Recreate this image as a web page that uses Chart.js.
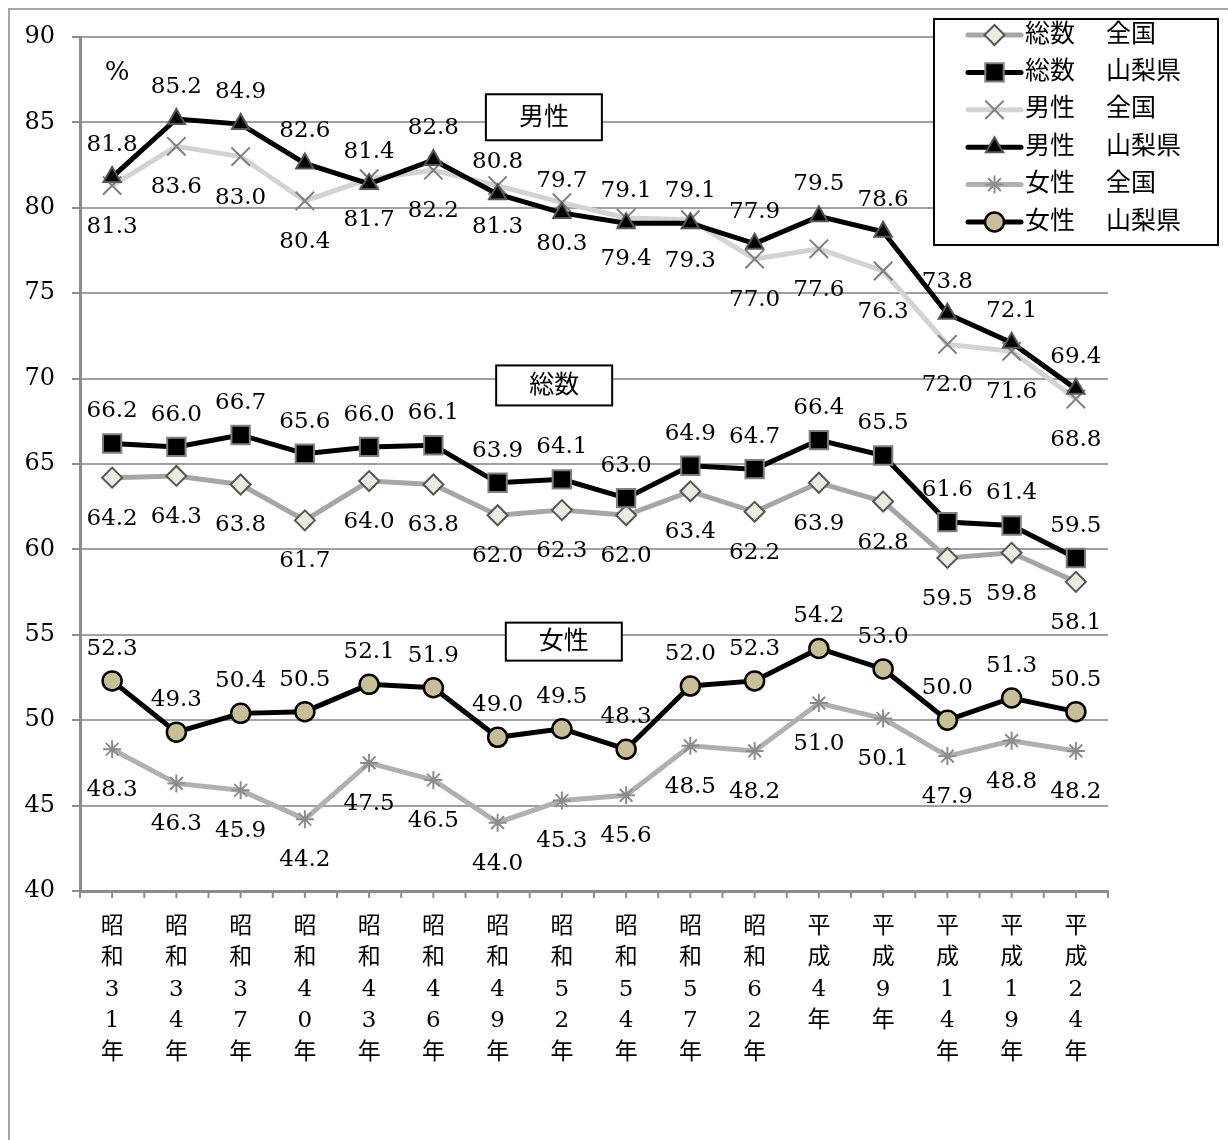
<!DOCTYPE html>
<html lang="ja">
<head>
<meta charset="utf-8">
<script src="https://cdn.jsdelivr.net/npm/chart.js@4.4.1/dist/chart.umd.min.js"></script>
<style>
  html, body { margin: 0; padding: 0; background: #fff; }
  #marco { width: 1228px; height: 1140px; }
</style>
</head>
<body>
<div id="marco"><canvas id="grafico" width="1228" height="1140"></canvas></div>
<script>
// 調査年
const anios = ['昭和31年', '昭和34年', '昭和37年', '昭和40年', '昭和43年', '昭和46年', '昭和49年', '昭和52年',
  '昭和54年', '昭和57年', '昭和62年', '平成4年', '平成9年', '平成14年', '平成19年', '平成24年'];

// 割合（％）
const totalNacional = [64.2, 64.3, 63.8, 61.7, 64.0, 63.8, 62.0, 62.3, 62.0, 63.4, 62.2, 63.9, 62.8, 59.5, 59.8, 58.1];
const totalYamanashi = [66.2, 66.0, 66.7, 65.6, 66.0, 66.1, 63.9, 64.1, 63.0, 64.9, 64.7, 66.4, 65.5, 61.6, 61.4, 59.5];
const hombresNacional = [81.3, 83.6, 83.0, 80.4, 81.7, 82.2, 81.3, 80.3, 79.4, 79.3, 77.0, 77.6, 76.3, 72.0, 71.6, 68.8];
const hombresYamanashi = [81.8, 85.2, 84.9, 82.6, 81.4, 82.8, 80.8, 79.7, 79.1, 79.1, 77.9, 79.5, 78.6, 73.8, 72.1, 69.4];
const mujeresNacional = [48.3, 46.3, 45.9, 44.2, 47.5, 46.5, 44.0, 45.3, 45.6, 48.5, 48.2, 51.0, 50.1, 47.9, 48.8, 48.2];
const mujeresYamanashi = [52.3, 49.3, 50.4, 50.5, 52.1, 51.9, 49.0, 49.5, 48.3, 52.0, 52.3, 54.2, 53.0, 50.0, 51.3, 50.5];

// 目盛り
const ejeMin = 40;
const ejeMax = 90;
const ejePaso = 5;

const FUENTE = "'DejaVu Serif', 'Noto Sans CJK JP', serif";

// Estilo de cada serie
function serie(label, data, linea, estilo, radio, relleno, borde, ancho) {
  return {
    label, data,
    borderColor: linea,
    borderWidth: 5,
    tension: 0,
    fill: false,
    pointStyle: estilo,
    pointRadius: radio,
    pointHoverRadius: radio,
    pointBackgroundColor: relleno,
    pointBorderColor: borde,
    pointBorderWidth: ancho
  };
}

const series = [
  serie('総数　全国', totalNacional, '#a6a6a6', 'rectRot', 10, '#ecebe0', '#555555', 2),
  serie('総数　山梨県', totalYamanashi, '#000000', 'rect', 13, '#000000', '#808080', 2),
  serie('男性　全国', hombresNacional, '#d3d3d3', 'crossRot', 13, '#7f7f7f', '#7f7f7f', 2),
  serie('男性　山梨県', hombresYamanashi, '#000000', 'triangle', 10, '#000000', '#555555', 2),
  serie('女性　全国', mujeresNacional, '#b0b0b0', 'star', 9, '#8c8c8c', '#8c8c8c', 2),
  serie('女性　山梨県', mujeresYamanashi, '#000000', 'circle', 9.5, '#c8bf99', '#000000', 2.5)
];
// la última serie queda encima
series.forEach((s, i) => { s.order = series.length - i; });

// Fondo y marco exterior
const fondo = {
  id: 'fondo',
  beforeDraw(chart) {
    const ctx = chart.ctx;
    ctx.save();
    ctx.fillStyle = '#fff';
    ctx.fillRect(0, 0, chart.width, chart.height);
    ctx.strokeStyle = '#a6a6a6';
    ctx.lineWidth = 2;
    ctx.beginPath();
    ctx.moveTo(9, chart.height);
    ctx.lineTo(9, 9);
    ctx.lineTo(chart.width, 9);
    ctx.stroke();
    ctx.restore();
  }
};

// Valores sobre/bajo cada punto
const valores = {
  id: 'valores',
  afterDatasetsDraw(chart) {
    const ctx = chart.ctx;
    ctx.save();
    ctx.font = '23px ' + FUENTE;
    ctx.fillStyle = '#000';
    ctx.textAlign = 'center';
    ctx.textBaseline = 'middle';
    chart.data.datasets.forEach((ds, i) => {
      const arriba = ds.label.endsWith('山梨県');
      chart.getDatasetMeta(i).data.forEach((p, j) => {
        ctx.fillText(ds.data[j].toFixed(1), p.x, p.y + (arriba ? -32 : 41));
      });
    });
    ctx.restore();
  }
};

// Marcas del eje X, rótulos, "%" y leyenda
const adornos = {
  id: 'adornos',
  afterDraw(chart) {
    const ctx = chart.ctx;
    const x = chart.scales.x;
    const y = chart.scales.y;
    ctx.save();

    // marcas cada media categoría
    const medio = (x.getPixelForValue(1) - x.getPixelForValue(0)) / 2;
    ctx.strokeStyle = '#8c8c8c';
    ctx.lineWidth = 2;
    ctx.beginPath();
    for (let i = 0; i < anios.length; i++) {
      const px = x.getPixelForValue(i);
      [px - medio, px].forEach(t => { ctx.moveTo(t, y.bottom); ctx.lineTo(t, y.bottom + 7); });
    }
    const fin = x.getPixelForValue(anios.length - 1) + medio;
    ctx.moveTo(fin, y.bottom);
    ctx.lineTo(fin, y.bottom + 7);
    ctx.stroke();

    // "%"
    ctx.fillStyle = '#000';
    ctx.font = '26px ' + FUENTE;
    ctx.textAlign = 'center';
    ctx.textBaseline = 'middle';
    ctx.fillText('%', x.getPixelForValue(0) + 5, y.getPixelForValue(87.9));

    // rótulos de grupo
    [
      { texto: '男性', i: 6.72, v: 85.3, alto: 46 },
      { texto: '総数', i: 6.88, v: 69.6, alto: 40 },
      { texto: '女性', i: 7.03, v: 54.6, alto: 38 }
    ].forEach(c => {
      const cx = x.getPixelForValue(c.i);
      const cy = y.getPixelForValue(c.v);
      ctx.fillStyle = '#fff';
      ctx.fillRect(cx - 58, cy - c.alto / 2, 116, c.alto);
      ctx.strokeStyle = '#000';
      ctx.lineWidth = 2;
      ctx.strokeRect(cx - 58, cy - c.alto / 2, 116, c.alto);
      ctx.fillStyle = '#000';
      ctx.font = '25px ' + FUENTE;
      ctx.fillText(c.texto, cx, cy + 1);
    });

    // leyenda
    const lx = 934, ly = 19, lw = 284, lh = 226;
    ctx.fillStyle = '#fff';
    ctx.fillRect(lx, ly, lw, lh);
    ctx.strokeStyle = '#000';
    ctx.lineWidth = 2;
    ctx.strokeRect(lx, ly, lw, lh);
    chart.data.datasets.forEach((ds, i) => {
      const ry = ly + 16 + i * 37.4;
      ctx.strokeStyle = ds.borderColor;
      ctx.lineWidth = 5;
      ctx.lineCap = 'round';
      ctx.beginPath();
      ctx.moveTo(968, ry);
      ctx.lineTo(1021, ry);
      ctx.stroke();
      ctx.lineCap = 'butt';
      ctx.fillStyle = ds.pointBackgroundColor;
      ctx.strokeStyle = ds.pointBorderColor;
      ctx.lineWidth = ds.pointBorderWidth;
      Chart.helpers.drawPoint(ctx, {
        pointStyle: ds.pointStyle, radius: ds.pointRadius, rotation: 0, borderWidth: ds.pointBorderWidth
      }, 994.5, ry);
      const partes = ds.label.split('　');
      ctx.fillStyle = '#000';
      ctx.font = '25px ' + FUENTE;
      ctx.textAlign = 'left';
      ctx.fillText(partes[0], 1025, ry);
      ctx.fillText(partes[1], 1106, ry);
    });
    ctx.restore();
  }
};

const ctx = document.getElementById('grafico').getContext('2d');
new Chart(ctx, {
  type: 'line',
  data: {
    labels: anios.map(a => a.split('')),
    datasets: series
  },
  options: {
    responsive: false,
    animation: false,
    events: [],
    layout: { padding: { left: 8, right: 120, top: 37, bottom: 0 } },
    plugins: {
      legend: { display: false },
      tooltip: { enabled: false }
    },
    scales: {
      x: {
        offset: true,
        grid: { display: false, drawTicks: false },
        border: { display: true, color: '#8c8c8c', width: 3 },
        ticks: {
          color: '#000',
          font: { family: FUENTE, size: 23, lineHeight: 1.37 },
          padding: 20,
          autoSkip: false,
          maxRotation: 0
        },
        afterFit(s) { s.height = 249; }
      },
      y: {
        min: ejeMin,
        max: ejeMax,
        grid: { color: '#a0a0a0', lineWidth: 2, tickColor: '#8c8c8c', tickLength: 8, tickWidth: 2 },
        border: { display: true, color: '#8c8c8c', width: 3 },
        ticks: {
          stepSize: ejePaso,
          color: '#000',
          font: { family: FUENTE, size: 24 },
          padding: 17
        },
        afterFit(s) { s.width = 72; }
      }
    }
  },
  plugins: [fondo, valores, adornos]
});
</script>
</body>
</html>
